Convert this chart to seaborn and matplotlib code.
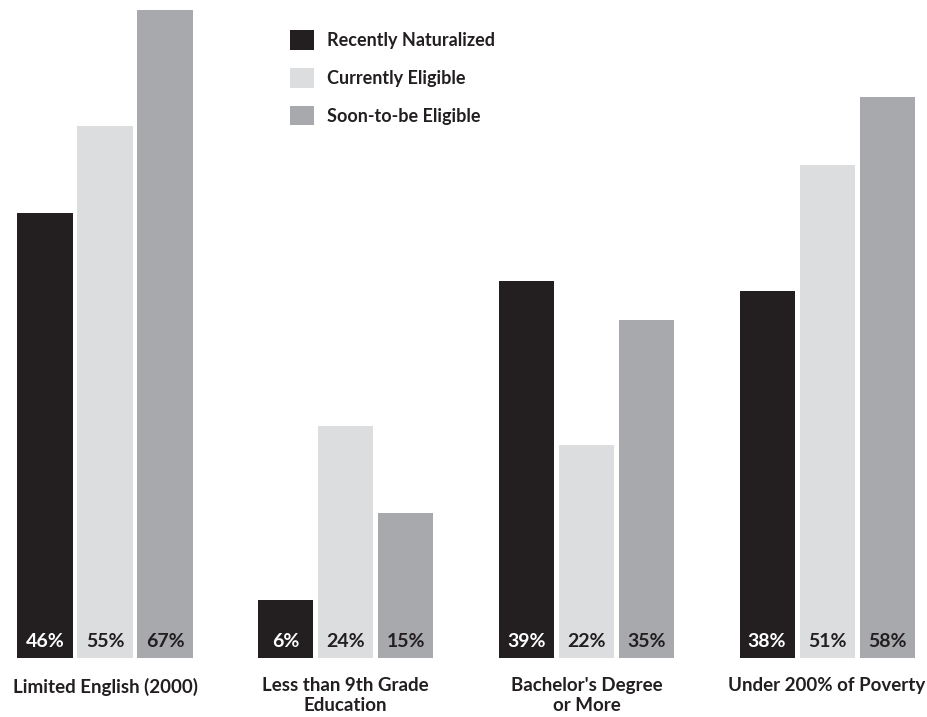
import matplotlib
matplotlib.use("Agg")
import matplotlib.pyplot as plt
import seaborn as sns
import pandas as pd
from matplotlib.patches import Patch

categories = ["Limited English (2000)", "Less than 9th Grade\nEducation",
              "Bachelor's Degree\nor More", "Under 200% of Poverty"]
series = ["Recently Naturalized", "Currently Eligible", "Soon-to-be Eligible"]
recently_naturalized = [46, 6, 39, 38]
currently_eligible = [55, 24, 22, 51]
soon_eligible = [67, 15, 35, 58]
colors = ["#231f20", "#dcdddf", "#a7a9ac"]
label_colors = ["white", "#231f20", "#231f20"]

rows = []
for s, vals in zip(series, [recently_naturalized, currently_eligible, soon_eligible]):
    for c, v in zip(categories, vals):
        rows.append({"category": c, "series": s, "value": v})
df = pd.DataFrame(rows)

sns.set_theme(style="white")
plt.rcParams['font.family'] = ['Lato', 'DejaVu Sans']

fig = plt.figure(figsize=(9.27, 7.17), dpi=100)
ax = fig.add_axes([0, 59/717, 1, 658/717])

sns.barplot(data=df, x="category", y="value", hue="series", order=categories,
            hue_order=series, palette=colors, width=0.748, gap=0.083,
            saturation=1, ax=ax, legend=False, edgecolor="none", linewidth=0)

ax.set_xlim(-105/240.7, (927-105)/240.7)
ax.set_ylim(0, 658/9.67)

for container, lc in zip(ax.containers, label_colors):
    for bar, v in zip(container, container.datavalues):
        ax.text(bar.get_x() + bar.get_width()/2, 1.7, f"{int(v)}%",
                ha="center", va="center", color=lc, fontsize=14, fontweight="bold")

for side in ["top", "right", "left", "bottom"]:
    ax.spines[side].set_visible(False)
ax.set_yticks([])
ax.set_xlabel("")
ax.set_ylabel("")
ax.tick_params(axis="x", length=0, pad=14)
ax.set_xticks(range(len(categories)))
ax.set_xticklabels(categories, fontsize=13.5, fontweight="bold", color="#231f20",
                   linespacing=1.2)

handles = [Patch(facecolor=c, edgecolor="none", label=s) for c, s in zip(colors, series)]
leg = fig.legend(handles=handles, loc="upper left", bbox_to_anchor=(274/927, 1 - 14/717),
                 frameon=False, handlelength=1.3, handleheight=1.3, labelspacing=1.0,
                 handletextpad=0.75, prop={"size": 13, "weight": "bold"})
for t in leg.get_texts():
    t.set_color("#231f20")

fig.savefig("out.png", dpi=100)
